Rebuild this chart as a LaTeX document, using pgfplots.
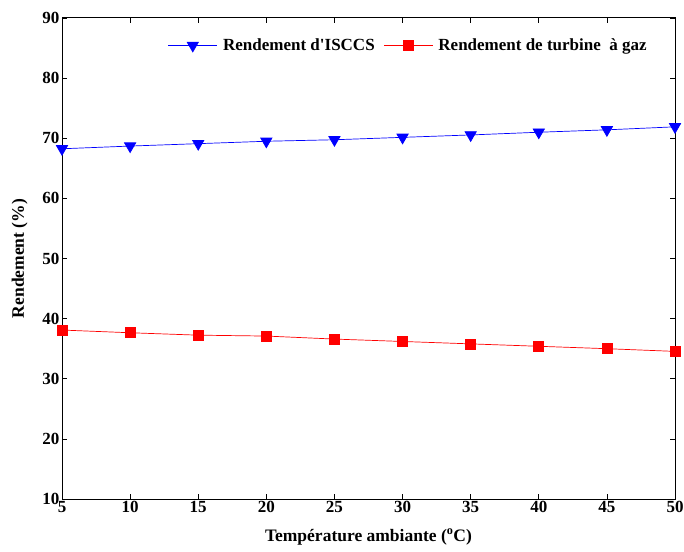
\documentclass[border=0pt]{standalone}
\usepackage{fontspec}
\setmainfont{Liberation Serif}[Ligatures=TeXOff]
\usepackage{pgfplots}
\pgfplotsset{compat=1.18}
\begin{document}
\begin{tikzpicture}
\begin{axis}[
  name=main,
  scale only axis,
  width=613pt, height=481pt,
  xmin=5, xmax=50, ymin=10, ymax=90,
  xtick={5,10,...,50}, ytick={10,20,...,90},
  tick align=inside,
  major tick length=5pt,
  tick style={black, line width=0.6pt},
  axis line style={line width=1pt},
  /pgf/number format/assume math mode=true,
  tick label style={font=\fontsize{17}{19}\selectfont\bfseries},
  xticklabel style={yshift=1pt},
  yticklabel style={xshift=1pt},
  label style={font=\fontsize{17.5}{19}\selectfont\bfseries},
  xlabel={Température ambiante (\textsuperscript{o}C)},
  ylabel={Rendement (\%)},
  xlabel style={yshift=-9pt},
  ylabel style={yshift=8pt},
  legend columns=2,
  legend style={fill=none, inner sep=0pt, at={(rel axis cs:0.959,0.943)}, anchor=east,
    font=\fontsize{17}{19}\selectfont\bfseries,
    /tikz/every even column/.append style={column sep=6pt},
    /tikz/every odd column/.append style={column sep=3pt},
    nodes={inner sep=3pt}},
  every axis legend/.append style={draw=none},
]
\addplot[color=blue, line width=0.7pt, mark=triangle*, mark size=6.5pt, mark options={rotate=180, fill=blue, draw=blue},
  legend image code/.code={
    \fill[fill=blue!70] (0pt,-0.4pt) rectangle (48pt,0.4pt);
    \draw[color=blue, fill=blue] plot[mark=triangle*, mark size=6.5pt, mark options={rotate=180}] coordinates {(24pt,0pt)};
  }]
coordinates {(5,68.25) (10,68.7) (15,69.1) (20,69.5) (25,69.75) (30,70.15) (35,70.55) (40,71.0) (45,71.4) (50,71.9)};
\addlegendentry{Rendement d'ISCCS}
\addplot[color=red, line width=0.7pt, mark=square*, mark size=5pt, mark options={fill=red, draw=red},
  legend image code/.code={
    \fill[fill=red!70] (0pt,-0.4pt) rectangle (48pt,0.4pt);
    \draw[color=red, fill=red] plot[mark=square*, mark size=5pt] coordinates {(24pt,0pt)};
  }]
coordinates {(5,38.1) (10,37.65) (15,37.25) (20,37.1) (25,36.6) (30,36.2) (35,35.8) (40,35.4) (45,35.0) (50,34.55)};
\addlegendentry{Rendement de turbine\ \ à gaz}
\end{axis}
\pgfresetboundingbox
\path ([xshift=-62pt,yshift=-52pt]main.south west) rectangle ([xshift=9pt,yshift=18pt]main.north east);
\end{tikzpicture}
\end{document}
